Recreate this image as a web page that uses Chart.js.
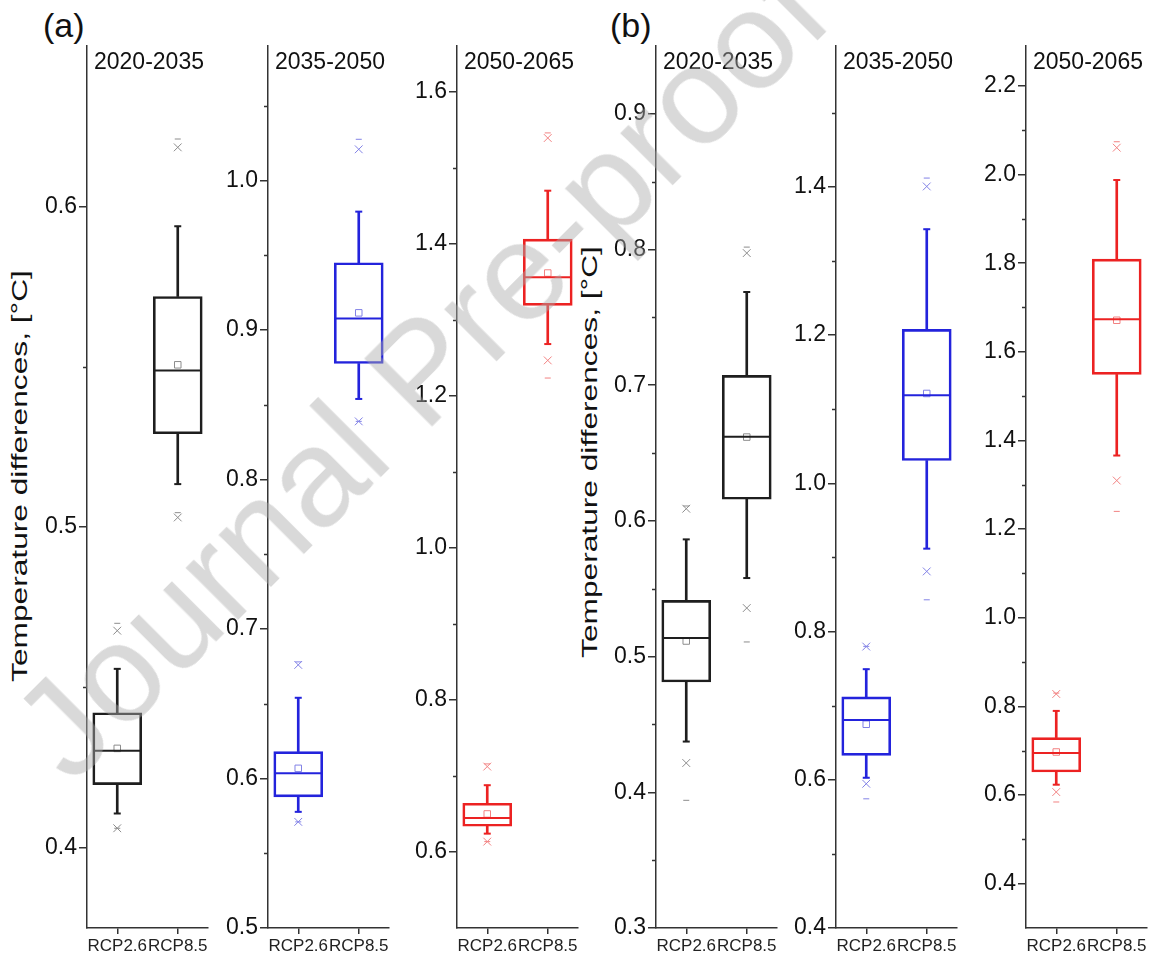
<!DOCTYPE html>
<html><head><meta charset="utf-8">
<script src="https://cdn.jsdelivr.net/npm/chart.js@4.4.0/dist/chart.umd.min.js"></script>
<style>
html,body{margin:0;padding:0;background:#fff;width:1152px;height:957px;overflow:hidden;}
body{position:relative;font-family:"Liberation Sans",Arial,sans-serif;}
.panel{position:absolute;top:0;height:957px;}
.txt{position:absolute;white-space:nowrap;color:#111;}
.ytitle{font-size:22px;line-height:22px;transform:translate(-50%,-50%) rotate(-90deg) scaleX(1.44);}
.wm{position:absolute;white-space:nowrap;font-size:140px;line-height:140px;color:rgba(170,170,170,0.45);transform:translate(-50%,-50%) rotate(-45deg);pointer-events:none;z-index:10;}
</style></head><body>
<div class="txt" style="left:43px;top:8px;font-size:34px;line-height:34px;">(a)</div>
<div class="txt" style="left:610px;top:8px;font-size:34px;line-height:34px;">(b)</div>
<div class="txt ytitle" style="left:20px;top:476px;">Temperature differences, [°C]</div>
<div class="txt ytitle" style="left:590px;top:452px;">Temperature differences, [°C]</div>
<script>
// ---------------- DATA ----------------
const categories = ['RCP2.6', 'RCP8.5'];
const periods = ['2020-2035', '2035-2050', '2050-2065', '2020-2035', '2035-2050', '2050-2065'];
// each array: 6 panels x [RCP2.6, RCP8.5]
const maxMark     = [0.4700, 0.6210, 0.678, 1.0276, 0.7158, 1.5457, 0.611, 0.8018, 0.780, 1.4118, 0.830, 2.074];
const p99         = [0.4677, 0.6184, 0.676, 1.0209, 0.7123, 1.5390, 0.609, 0.7974, 0.7797, 1.4005, 0.828, 2.0606];
const whiskerHigh = [0.4558, 0.5938, 0.654, 0.9792, 0.6878, 1.4697, 0.5864, 0.7687, 0.7492, 1.3428, 0.7898, 1.9876];
const q3          = [0.4421, 0.5719, 0.618, 0.9450, 0.6641, 1.4060, 0.5415, 0.7073, 0.7118, 1.2077, 0.7296, 1.809];
const median      = [0.4303, 0.5488, 0.6036, 0.9077, 0.6447, 1.3560, 0.5137, 0.6620, 0.6807, 1.1189, 0.6948, 1.6734];
const mean        = [0.4310, 0.5506, 0.6068, 0.9115, 0.6500, 1.3614, 0.5115, 0.6618, 0.6749, 1.1212, 0.6971, 1.6712];
const q1          = [0.4197, 0.5291, 0.5877, 0.8776, 0.6338, 1.3188, 0.4813, 0.6160, 0.6330, 1.0307, 0.6519, 1.549];
const whiskerLow  = [0.4107, 0.5134, 0.5777, 0.8539, 0.6241, 1.2680, 0.4374, 0.5579, 0.6027, 0.9118, 0.6233, 1.366];
const p1          = [0.4061, 0.5030, 0.5710, 0.8389, 0.6136, 1.2465, 0.4216, 0.5358, 0.5946, 0.8811, 0.6068, 1.3096];
const minMark     = [0.4061, 0.5045, 0.5710, 0.8389, 0.6136, 1.2233, 0.3941, 0.5108, 0.5743, 0.8428, 0.5843, 1.240];

const yMin = [0.375, 0.5, 0.5, 0.3, 0.4, 0.3];
const yMax = [0.65, 1.09, 1.66, 0.95, 1.59, 2.29];
const yTicks = [
  [0.4, 0.5, 0.6],
  [0.5, 0.6, 0.7, 0.8, 0.9, 1.0],
  [0.6, 0.8, 1.0, 1.2, 1.4, 1.6],
  [0.3, 0.4, 0.5, 0.6, 0.7, 0.8, 0.9],
  [0.4, 0.6, 0.8, 1.0, 1.2, 1.4],
  [0.4, 0.6, 0.8, 1.0, 1.2, 1.4, 1.6, 1.8, 2.0, 2.2]
];
const yMinorTicks = [
  [0.45, 0.55],
  [0.55, 0.65, 0.75, 0.85, 0.95, 1.05],
  [0.7, 0.9, 1.1, 1.3, 1.5],
  [0.35, 0.45, 0.55, 0.65, 0.75, 0.85],
  [0.5, 0.7, 0.9, 1.1, 1.3, 1.5],
  [0.5, 0.7, 0.9, 1.1, 1.3, 1.5, 1.7, 1.9, 2.1]
];

// ---------------- LAYOUT / STYLE ----------------
const axisLeft = [87, 268, 457, 656, 836, 1026];
const mainColors = ['#1e1e1e', '#2323dc', '#ec2222', '#1e1e1e', '#2323dc', '#ec2222'];
const lightColors = ['#8c8c8c', '#8282e6', '#f28282', '#8c8c8c', '#8282e6', '#f28282'];
const FONT = '"Liberation Sans", Arial, sans-serif';
const Y_AXIS_W = 60, PLOT_W = 121, PLOT_TOP = 46, X_AXIS_H = 29, RIGHT_PAD = 40;

function pair(arr, p) { return [arr[2 * p], arr[2 * p + 1]]; }

const minorTickPlugin = {
  id: 'minorTicks',
  afterDraw(chart, args, opts) {
    const ctx = chart.ctx, ys = chart.scales.y, left = chart.chartArea.left;
    ctx.save();
    ctx.strokeStyle = '#333';
    ctx.lineWidth = 1.5;
    opts.values.forEach(v => {
      const y = Math.round(ys.getPixelForValue(v)) + 0.5;
      ctx.beginPath(); ctx.moveTo(left - 4, y); ctx.lineTo(left, y); ctx.stroke();
    });
    ctx.fillStyle = '#111';
    ctx.font = '23px ' + FONT;
    ctx.textBaseline = 'alphabetic';
    ctx.textAlign = 'left';
    ctx.fillText(opts.title, left + 7, 69);
    ctx.restore();
  }
};

function pointSet(data, style, radius, color, width) {
  return {
    type: 'line', data, showLine: false, pointStyle: style, pointRadius: radius,
    pointBorderWidth: width, pointBorderColor: color, borderColor: color,
    pointBackgroundColor: 'rgba(0,0,0,0)', backgroundColor: 'rgba(0,0,0,0)'
  };
}

for (let p = 0; p < 6; p++) {
  const div = document.createElement('div');
  div.className = 'panel';
  div.style.left = (axisLeft[p] - Y_AXIS_W) + 'px';
  const W = Y_AXIS_W + PLOT_W + RIGHT_PAD;
  div.style.width = W + 'px';
  const cv = document.createElement('canvas');
  cv.width = W; cv.height = 957;
  cv.style.width = W + 'px'; cv.style.height = '957px';
  div.appendChild(cv);
  document.body.appendChild(div);

  const c = mainColors[p], lc = lightColors[p];
  const Q1 = pair(q1, p), Q3 = pair(q3, p), WL = pair(whiskerLow, p), WH = pair(whiskerHigh, p);

  const datasets = [
    pointSet(pair(median, p), 'line', 24, c, 2),
    pointSet(pair(mean, p), 'rect', 4.6, lc, 1),
    pointSet(pair(p99, p), 'crossRot', 5.5, lc, 1),
    pointSet(pair(p1, p), 'crossRot', 5.5, lc, 1),
    pointSet(pair(maxMark, p), 'line', 3, lc, 1),
    pointSet(pair(minMark, p), 'line', 3, lc, 1),
    pointSet(WH, 'line', 3.5, c, 2),
    pointSet(WL, 'line', 3.5, c, 2),
    { type: 'bar', data: [[Q1[0], Q3[0]], [Q1[1], Q3[1]]], grouped: false, barThickness: 49,
      backgroundColor: 'rgba(0,0,0,0)', borderColor: c, borderWidth: 2, borderSkipped: false },
    { type: 'bar', data: [[Q3[0], WH[0]], [Q3[1], WH[1]]], grouped: false, barThickness: 2,
      backgroundColor: c, borderWidth: 0 },
    { type: 'bar', data: [[WL[0], Q1[0]], [WL[1], Q1[1]]], grouped: false, barThickness: 2,
      backgroundColor: c, borderWidth: 0 }
  ];

  const tickVals = yTicks[p];
  new Chart(cv, {
    type: 'bar',
    data: { labels: categories, datasets },
    options: {
      responsive: false, animation: false, events: [],
      layout: { padding: { top: PLOT_TOP, left: 0, right: RIGHT_PAD, bottom: 0 } },
      plugins: {
        legend: { display: false }, tooltip: { enabled: false },
        minorTicks: { values: yMinorTicks[p], title: periods[p] }
      },
      scales: {
        x: {
          type: 'category', offset: true,
          grid: { drawOnChartArea: false, drawTicks: true, tickLength: 6, color: '#333', lineWidth: 1.5, offset: false },
          border: { display: true, color: '#333', width: 1.5 },
          ticks: { font: { family: FONT, size: 17 }, color: '#222', maxRotation: 0, minRotation: 0, autoSkip: false, padding: 2 },
          afterFit: s => { s.height = X_AXIS_H; }
        },
        y: {
          type: 'linear', min: yMin[p], max: yMax[p],
          afterBuildTicks: s => { s.ticks = tickVals.map(v => ({ value: v })); },
          grid: { drawOnChartArea: false, drawTicks: true, tickLength: 8, color: '#333', lineWidth: 1.5 },
          border: { display: true, color: '#333', width: 1.5 },
          ticks: { font: { family: FONT, size: 23 }, color: '#111', padding: 2, callback: v => Number(v).toFixed(1) },
          afterFit: s => { s.width = Y_AXIS_W; }
        }
      }
    },
    plugins: [minorTickPlugin]
  });
}
</script>
<div class="wm" style="left:420px;top:370px;">Journal Pre-proof</div>
</body></html>
